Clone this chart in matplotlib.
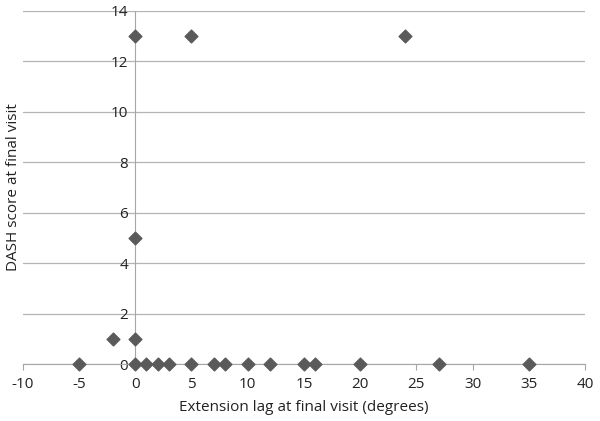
import matplotlib.pyplot as plt
from matplotlib.ticker import MultipleLocator

# extension lag (degrees) and DASH score at final visit
lag = [-5, 0, 1, 2, 3, 5, 7, 8, 10, 12, 15, 16, 20, 27, 35,
       -2, 0,
       0,
       0, 5, 24]
dash = [0, 0, 0, 0, 0, 0, 0, 0, 0, 0, 0, 0, 0, 0, 0,
        1, 1,
        5,
        13, 13, 13]

plt.rcParams["font.family"] = ["Open Sans", "DejaVu Sans"]
plt.rcParams["axes.unicode_minus"] = False

fig = plt.figure(figsize=(6.0, 4.21), dpi=100)
ax = fig.add_axes([0.038, 0.135, 0.937, 0.839])

ax.scatter(lag, dash, marker="D", s=42, color="#5a5a5a", zorder=5, clip_on=False)

ax.set_xlim(-10, 40)
ax.set_ylim(0, 14)
ax.xaxis.set_major_locator(MultipleLocator(5))
ax.yaxis.set_major_locator(MultipleLocator(2))

ax.grid(axis="y", color="#b4b4b4", linewidth=0.9)
ax.set_axisbelow(True)

for side in ("top", "right"):
    ax.spines[side].set_visible(False)
ax.spines["left"].set_position(("data", 0))
ax.spines["left"].set_color("#a6a6a6")
ax.spines["bottom"].set_color("#a6a6a6")
ax.spines["left"].set_zorder(2)

ax.tick_params(axis="y", length=0, labelsize=11, pad=5, colors="#222222")
ax.tick_params(axis="x", length=4, color="#a6a6a6", labelsize=11, pad=5,
               labelcolor="#222222")

ax.set_xlabel("Extension lag at final visit (degrees)", fontsize=11,
              color="#222222", labelpad=6)
fig.text(0.022, 0.555, "DASH score at final visit", rotation=90,
         ha="center", va="center", fontsize=11, color="#222222")

fig.savefig("out.png", dpi=100)
